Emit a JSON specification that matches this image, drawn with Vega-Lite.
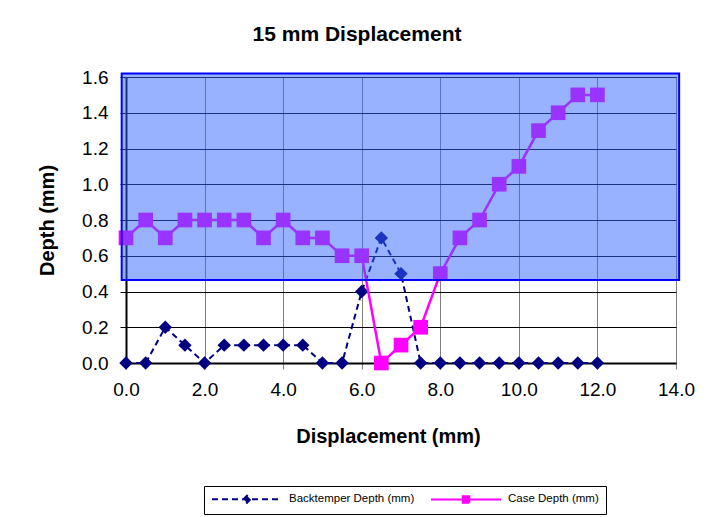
{
  "$schema": "https://vega.github.io/schema/vega-lite/v6.json",
  "width": 550,
  "height": 286,
  "autosize": {"type": "none"},
  "padding": {"left": 126, "top": 77, "right": 34, "bottom": 154},
  "background": "white",
  "title": {"text": "15 mm Displacement", "font": "Liberation Sans", "fontSize": 21, "fontWeight": "bold", "color": "#000", "anchor": "middle", "dx": -44, "baseline": "alphabetic", "offset": 6},
  "config": {
    "font": "Liberation Sans",
    "view": {"stroke": "#000", "strokeWidth": 1}
  },
  "data": {"values": [
    {"x": 0, "y": 0, "series": "Backtemper Depth (mm)"},
    {"x": 0.5, "y": 0, "series": "Backtemper Depth (mm)"},
    {"x": 1, "y": 0.2, "series": "Backtemper Depth (mm)"},
    {"x": 1.5, "y": 0.1, "series": "Backtemper Depth (mm)"},
    {"x": 2, "y": 0, "series": "Backtemper Depth (mm)"},
    {"x": 2.5, "y": 0.1, "series": "Backtemper Depth (mm)"},
    {"x": 3, "y": 0.1, "series": "Backtemper Depth (mm)"},
    {"x": 3.5, "y": 0.1, "series": "Backtemper Depth (mm)"},
    {"x": 4, "y": 0.1, "series": "Backtemper Depth (mm)"},
    {"x": 4.5, "y": 0.1, "series": "Backtemper Depth (mm)"},
    {"x": 5, "y": 0, "series": "Backtemper Depth (mm)"},
    {"x": 5.5, "y": 0, "series": "Backtemper Depth (mm)"},
    {"x": 6, "y": 0.4, "series": "Backtemper Depth (mm)"},
    {"x": 6.5, "y": 0.7, "series": "Backtemper Depth (mm)"},
    {"x": 7, "y": 0.5, "series": "Backtemper Depth (mm)"},
    {"x": 7.5, "y": 0, "series": "Backtemper Depth (mm)"},
    {"x": 8, "y": 0, "series": "Backtemper Depth (mm)"},
    {"x": 8.5, "y": 0, "series": "Backtemper Depth (mm)"},
    {"x": 9, "y": 0, "series": "Backtemper Depth (mm)"},
    {"x": 9.5, "y": 0, "series": "Backtemper Depth (mm)"},
    {"x": 10, "y": 0, "series": "Backtemper Depth (mm)"},
    {"x": 10.5, "y": 0, "series": "Backtemper Depth (mm)"},
    {"x": 11, "y": 0, "series": "Backtemper Depth (mm)"},
    {"x": 11.5, "y": 0, "series": "Backtemper Depth (mm)"},
    {"x": 12, "y": 0, "series": "Backtemper Depth (mm)"},
    {"x": 0, "y": 0.7, "series": "Case Depth (mm)"},
    {"x": 0.5, "y": 0.8, "series": "Case Depth (mm)"},
    {"x": 1, "y": 0.7, "series": "Case Depth (mm)"},
    {"x": 1.5, "y": 0.8, "series": "Case Depth (mm)"},
    {"x": 2, "y": 0.8, "series": "Case Depth (mm)"},
    {"x": 2.5, "y": 0.8, "series": "Case Depth (mm)"},
    {"x": 3, "y": 0.8, "series": "Case Depth (mm)"},
    {"x": 3.5, "y": 0.7, "series": "Case Depth (mm)"},
    {"x": 4, "y": 0.8, "series": "Case Depth (mm)"},
    {"x": 4.5, "y": 0.7, "series": "Case Depth (mm)"},
    {"x": 5, "y": 0.7, "series": "Case Depth (mm)"},
    {"x": 5.5, "y": 0.6, "series": "Case Depth (mm)"},
    {"x": 6, "y": 0.6, "series": "Case Depth (mm)"},
    {"x": 6.5, "y": 0, "series": "Case Depth (mm)"},
    {"x": 7, "y": 0.1, "series": "Case Depth (mm)"},
    {"x": 7.5, "y": 0.2, "series": "Case Depth (mm)"},
    {"x": 8, "y": 0.5, "series": "Case Depth (mm)"},
    {"x": 8.5, "y": 0.7, "series": "Case Depth (mm)"},
    {"x": 9, "y": 0.8, "series": "Case Depth (mm)"},
    {"x": 9.5, "y": 1.0, "series": "Case Depth (mm)"},
    {"x": 10, "y": 1.1, "series": "Case Depth (mm)"},
    {"x": 10.5, "y": 1.3, "series": "Case Depth (mm)"},
    {"x": 11, "y": 1.4, "series": "Case Depth (mm)"},
    {"x": 11.5, "y": 1.5, "series": "Case Depth (mm)"},
    {"x": 12, "y": 1.5, "series": "Case Depth (mm)"}
  ]},
  "encoding": {
    "x": {
      "field": "x", "type": "quantitative", "title": "Displacement (mm)",
      "scale": {"domain": [0, 14], "nice": false, "zero": false},
      "axis": {
        "values": [0, 2, 4, 6, 8, 10, 12, 14], "format": ".1f", "zindex": 0,
        "grid": true, "gridColor": "#808080", "gridWidth": 1, "gridOpacity": 1,
        "tickColor": "#808080", "tickSize": 6, "tickWidth": 1,
        "domainColor": "#000", "domainWidth": 2,
        "labelFont": "Liberation Sans", "labelFontSize": 19, "labelColor": "#000", "labelPadding": 11,
        "labelFlush": false, "labelOverlap": false,
        "titleFont": "Liberation Sans", "titleFontSize": 20, "titleFontWeight": "bold", "titleColor": "#000",
        "titleX": 262, "titleY": 73, "titleBaseline": "middle", "titleAlign": "center"
      }
    },
    "y": {
      "field": "y", "type": "quantitative", "title": "Depth (mm)",
      "scale": {"domain": [0, 1.6], "nice": false},
      "axis": {
        "values": [0, 0.2, 0.4, 0.6, 0.8, 1.0, 1.2, 1.4, 1.6], "format": ".1f", "zindex": 0,
        "grid": true, "gridColor": "#000", "gridWidth": 1, "gridOpacity": 1,
        "tickColor": "#000", "tickSize": 6, "tickWidth": 1,
        "domainColor": "#000", "domainWidth": 2,
        "labelFont": "Liberation Sans", "labelFontSize": 19, "labelColor": "#000", "labelPadding": 12,
        "labelOverlap": false,
        "titleFont": "Liberation Sans", "titleFontSize": 20, "titleFontWeight": "bold", "titleColor": "#000",
        "titleX": -79, "titleY": 143, "titleAngle": -90, "titleBaseline": "middle", "titleAlign": "center"
      }
    }
  },
  "layer": [
    {
      "transform": [{"filter": "datum.series === 'Backtemper Depth (mm)'"}],
      "mark": {"type": "line", "color": "#000080", "strokeWidth": 2, "strokeDash": [6, 4]}
    },
    {
      "transform": [{"filter": "datum.series === 'Backtemper Depth (mm)'"}],
      "mark": {"type": "point", "shape": "diamond", "filled": true, "size": 180, "color": "#000080", "opacity": 1}
    },
    {
      "transform": [{"filter": "datum.series === 'Case Depth (mm)'"}],
      "mark": {"type": "line", "color": "#ff00ff", "strokeWidth": 2.5}
    },
    {
      "transform": [{"filter": "datum.series === 'Case Depth (mm)'"}],
      "mark": {"type": "square", "size": 215, "color": "#ff00ff", "opacity": 1}
    },
    {
      "transform": [{"filter": "false"}],
      "mark": {"type": "point", "strokeWidth": 2, "opacity": 1},
      "encoding": {
        "fill": {
          "field": "series", "type": "nominal",
          "scale": {"domain": ["Backtemper Depth (mm)", "Case Depth (mm)"], "range": ["#000080", "#ff00ff"]},
          "legend": {
            "orient": "none", "legendX": 78, "legendY": 409, "direction": "horizontal", "columns": 2,
            "title": null, "symbolSize": 100, "symbolStrokeWidth": 2, "labelOffset": 66,
            "labelFont": "Liberation Sans", "labelFontSize": 11.5, "labelColor": "#000", "labelLimit": 0,
            "padding": 7, "strokeColor": "#000", "fillColor": "#fff", "columnPadding": 12
          }
        },
        "stroke": {
          "field": "series", "type": "nominal",
          "scale": {"domain": ["Backtemper Depth (mm)", "Case Depth (mm)"], "range": ["#000080", "#ff00ff"]}
        },
        "shape": {
          "field": "series", "type": "nominal",
          "scale": {"domain": ["Backtemper Depth (mm)", "Case Depth (mm)"], "range": ["M-1,0H13M5.3,0L6,-0.7L6.7,0L6,0.7Z", "M-1,0H13M5.35,-0.65H6.65V0.65H5.35Z"]}
        },
        "strokeDash": {
          "field": "series", "type": "nominal",
          "scale": {"domain": ["Backtemper Depth (mm)", "Case Depth (mm)"], "range": [[6, 4], [1, 0]]}
        }
      }
    },
    {
      "data": {"values": [{"x": -0.11, "x_end": 14.08, "y": 0.465, "y_end": 1.619}]},
      "mark": {"type": "rect", "fill": "#3366ff", "fillOpacity": 0.5, "stroke": "#0000ff", "strokeWidth": 2, "strokeOpacity": 1, "clip": false},
      "encoding": {
        "x2": {"field": "x_end"},
        "y2": {"field": "y_end"}
      }
    }
  ]
}
